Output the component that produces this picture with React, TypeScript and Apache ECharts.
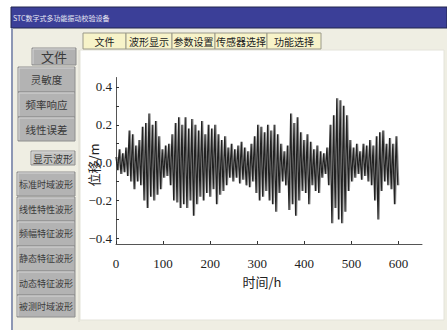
import React, { useEffect, useRef } from "react";
import * as echarts from "echarts";

// Displacement signal: alternating local peaks and troughs
const sampleStep = 3.5; // hours between a peak and the following trough
const traceLag = 2.2; // hours between the dark trace and the grey trace drawn over it
const peaks = [
  0.03, 0.07, 0.05, 0.08, 0.17, 0.15, 0.09, 0.12, 0.19, 0.21,
  0.26, 0.2, 0.22, 0.14, 0.07, 0.09, 0.1, 0.15, 0.21, 0.24,
  0.2, 0.24, 0.18, 0.23, 0.2, 0.17, 0.22, 0.15, 0.2, 0.18,
  0.2, 0.15, 0.12, 0.14, 0.08, 0.1, 0.07, 0.09, 0.11, 0.08,
  0.06, 0.1, 0.14, 0.2, 0.19, 0.16, 0.2, 0.17, 0.2, 0.15,
  0.1, 0.06, 0.09, 0.26, 0.21, 0.24, 0.16, 0.12, 0.15, 0.11,
  0.07, 0.09, 0.06, 0.05, 0.08, 0.2, 0.25, 0.34, 0.33, 0.3,
  0.25, 0.12, 0.08, 0.1, 0.06, 0.1, 0.09, 0.12, 0.09, 0.14,
  0.16, 0.17, 0.1, 0.13, 0.1, 0.14,
];
const troughs = [
  -0.04, -0.06, -0.05, -0.07, -0.1, -0.14, -0.1, -0.12, -0.2, -0.24,
  -0.18, -0.2, -0.17, -0.14, -0.08, -0.07, -0.12, -0.2, -0.21, -0.24,
  -0.22, -0.24, -0.2, -0.28, -0.22, -0.18, -0.2, -0.16, -0.18, -0.14,
  -0.22, -0.17, -0.15, -0.12, -0.08, -0.1, -0.08, -0.11, -0.09, -0.12,
  -0.13, -0.1, -0.16, -0.2, -0.18, -0.15, -0.2, -0.22, -0.26, -0.16,
  -0.1, -0.12, -0.25, -0.22, -0.28, -0.2, -0.15, -0.16, -0.22, -0.12,
  -0.15, -0.16, -0.08, -0.06, -0.12, -0.32, -0.24, -0.3, -0.32, -0.26,
  -0.15, -0.1, -0.08, -0.06, -0.09, -0.07, -0.1, -0.12, -0.2, -0.3,
  -0.15, -0.1, -0.12, -0.14, -0.22, -0.12,
];

const xTickValues = [0, 100, 200, 300, 400, 500, 600];
const yLabelValues = [-0.4, -0.2, 0, 0.2, 0.4];
const yTickValues = [-0.4, -0.3, -0.2, -0.1, 0, 0.1, 0.2, 0.3, 0.4];

const windowTitle = "STC数字式多功能振动校验设备";
const topTabs = ["文件", "波形显示", "参数设置", "传感器选择", "功能选择"];
const fileButtons = ["灵敏度", "频率响应", "线性误差"];
const waveButtons = ["标准时域波形", "线性特性波形", "频幅特征波形", "静态特征波形", "动态特征波形", "被测时域波形"];
const xAxisName = "时间/h";
const yAxisName = "位移/m";

const displacement: [number, number][] = [];
const displacementGrey: [number, number][] = [];
peaks.forEach((p, i) => {
  displacement.push([i * 2 * sampleStep, p]);
  displacement.push([(i * 2 + 1) * sampleStep, troughs[i]]);
  displacementGrey.push([i * 2 * sampleStep + traceLag, p]);
  displacementGrey.push([(i * 2 + 1) * sampleStep + traceLag, troughs[i]]);
});

const CJK = '"Noto Sans CJK SC", sans-serif';
const SERIF = '"Liberation Serif", "DejaVu Serif", serif';

function button(x: number, y: number, w: number, h: number, text: string, size: number, fill: string) {
  return {
    type: "group",
    children: [
      { type: "rect", shape: { x, y, width: w, height: h }, style: { fill, stroke: "#8e8e8e", lineWidth: 1 } },
      { type: "line", shape: { x1: x + 1, y1: y + 1, x2: x + w - 1, y2: y + 1 }, style: { stroke: "#d6d6d6", lineWidth: 1 } },
      { type: "line", shape: { x1: x + 1, y1: y + 1, x2: x + 1, y2: y + h - 1 }, style: { stroke: "#d6d6d6", lineWidth: 1 } },
      {
        type: "text",
        x: x + w / 2,
        y: y + h / 2,
        style: { text, fill: "#3a3a3a", font: `${size}px ${CJK}`, align: "center", verticalAlign: "middle" },
      },
    ],
  };
}

export default function App() {
  const ref = useRef<HTMLDivElement>(null);
  useEffect(() => {
    if (!ref.current) return;
    const chart = echarts.init(ref.current, undefined, { renderer: "svg" });

    const tabEdges = [83, 126, 172, 215, 267, 321];
    const fileBtnTops = [67, 92, 117];
    const fileBtnH = [25, 25, 24];
    const waveBtnTops = [172, 197, 221, 246, 271, 295];
    const waveBtnH = [24, 24, 25, 25, 24, 22];

    const graphic: any[] = [
      { type: "rect", z: -10, shape: { x: 11, y: 7, width: 436, height: 323 }, style: { fill: "#efeee3" } },
      { type: "rect", z: -9, shape: { x: 80, y: 50, width: 364, height: 270 }, style: { fill: "#ffffff", stroke: "#e4e3da" } },
      { type: "rect", shape: { x: 11, y: 7, width: 436, height: 21 }, style: { fill: "#3b3f98", stroke: "#22264f", lineWidth: 1 } },
      {
        type: "text",
        x: 13,
        y: 18,
        style: { text: windowTitle, fill: "#e8e8f4", font: `7px ${CJK}`, verticalAlign: "middle" },
      },
      { type: "line", shape: { x1: 12, y1: 28, x2: 12, y2: 330 }, style: { stroke: "#8d97b4", lineWidth: 2 } },
      { type: "line", shape: { x1: 79, y1: 50, x2: 79, y2: 322 }, style: { stroke: "#dcdbd0", lineWidth: 1 } },
    ];

    topTabs.forEach((t, i) => {
      const x0 = tabEdges[i];
      const x1 = tabEdges[i + 1];
      graphic.push({
        type: "rect",
        shape: { x: x0, y: 33, width: x1 - x0, height: 16 },
        style: { fill: "#f7f3c9", stroke: "#9b9a8a", lineWidth: 1 },
      });
      graphic.push({
        type: "text",
        x: (x0 + x1) / 2,
        y: 41,
        style: { text: t, fill: "#222", font: `10px ${CJK}`, align: "center", verticalAlign: "middle" },
      });
    });

    graphic.push(button(32, 48, 44, 17, "文件", 13, "#b1b1b1"));
    fileButtons.forEach((t, i) => graphic.push(button(18, fileBtnTops[i], 57, fileBtnH[i], t, 10.5, "#b3b3b3")));
    graphic.push(button(31, 151, 44, 14, "显示波形", 10, "#c4c4c2"));
    waveButtons.forEach((t, i) => graphic.push(button(17, waveBtnTops[i], 58, waveBtnH[i], t, 9, "#b3b3b3")));

    graphic.push({
      type: "text",
      x: 262,
      y: 281,
      style: { text: xAxisName, fill: "#222", font: `13px ${CJK}`, align: "center", verticalAlign: "middle" },
    });
    graphic.push({
      type: "text",
      x: 93,
      y: 165,
      rotation: Math.PI / 2,
      style: { text: yAxisName, fill: "#222", font: `13px ${CJK}`, align: "center", verticalAlign: "middle" },
    });

    chart.setOption({
      animation: false,
      backgroundColor: "#ffffff",
      graphic,
      grid: { left: 116, right: 25, top: 77.5, bottom: 86, containLabel: false },
      xAxis: {
        type: "value",
        min: 0,
        max: 650,
        axisLine: { show: true, onZero: false, lineStyle: { color: "#555", width: 1 } },
        axisTick: { show: true, inside: true, length: 3, customValues: xTickValues, lineStyle: { color: "#333" } },
        axisLabel: {
          customValues: xTickValues,
          margin: 13,
          color: "#222",
          fontFamily: SERIF,
          fontSize: 13,
        },
        splitLine: { show: false },
      },
      yAxis: {
        type: "value",
        min: -0.43,
        max: 0.45,
        axisLine: { show: true, onZero: false, lineStyle: { color: "#555", width: 1 } },
        axisTick: { show: true, inside: true, length: 3, customValues: yTickValues, lineStyle: { color: "#333" } },
        axisLabel: {
          customValues: yLabelValues,
          margin: 4,
          color: "#222",
          fontFamily: SERIF,
          fontSize: 13,
          formatter: (v: number) => {
            const s = Math.abs(v).toFixed(1);
            return v < -1e-9 ? "\u2212" + s : s;
          },
        },
        splitLine: { show: false },
      },
      series: [
        {
          type: "line",
          data: displacementGrey,
          showSymbol: false,
          silent: true,
          lineStyle: { color: "#8a8a8a", width: 1.2 },
        },
        {
          type: "line",
          data: displacement,
          showSymbol: false,
          silent: true,
          lineStyle: { color: "#222222", width: 1.2 },
        },
      ],
    });
    return () => chart.dispose();
  }, []);
  return <div ref={ref} style={{ position: "fixed", left: 0, top: 0, width: 447, height: 330 }} />;
}
